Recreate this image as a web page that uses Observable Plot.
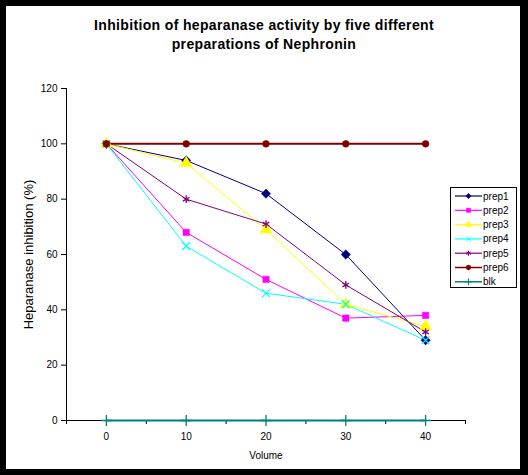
<!DOCTYPE html>
<html>
<head>
<meta charset="utf-8">
<script src="https://cdn.jsdelivr.net/npm/d3@7"></script>
<script src="https://cdn.jsdelivr.net/npm/@observablehq/plot@0.6"></script>
<style>
  html, body { margin: 0; padding: 0; background: #fff; }
  #page { position: relative; width: 528px; height: 475px; overflow: hidden; font-family: "Liberation Sans", Arial, sans-serif; }
  #frame { position: absolute; left: 0; top: 0; width: 528px; height: 475px; box-sizing: border-box;
           border-style: solid; border-color: #000; border-width: 6px 8px 6px 6px; pointer-events: none; z-index: 5; }
  #title { position: absolute; left: 0; top: 16px; width: 528px; text-align: center; font-weight: bold;
           font-size: 14px; letter-spacing: 0.35px; line-height: 19px; color: #000; }
  #chart { position: absolute; left: 0; top: 60px; }
  #legend { position: absolute; left: 450px; top: 187px; z-index: 3; }
</style>
</head>
<body>
<div id="page">
  <div id="title">Inhibition of heparanase activity by five different<br>preparations of Nephronin</div>
  <div id="chart"></div>
  <div id="legend"></div>
  <div id="frame"></div>
</div>
<script>
// ---- data ----
const volumes = [0, 10, 20, 30, 40];
const prep1 = [100, 94, 82, 60, 29];
const prep2 = [100, 68, 51, 37, 38];
const prep3 = [100, 93, 69, 42, 34];
const prep4 = [100, 63, 46, 42, 29];
const prep5 = [100, 80, 71, 49, 32];
const prep6 = [100, 100, 100, 100, 100];
const blk = [0, 0, 0, 0, 0];
const seriesNames = ["prep1", "prep2", "prep3", "prep4", "prep5", "prep6", "blk"];
const seriesValues = [prep1, prep2, prep3, prep4, prep5, prep6, blk];
const seriesColors = ["#000080", "#FF00FF", "#FFFF00", "#00FFFF", "#800080", "#800000", "#008080"];
const seriesSymbols = ["diamond2", "square", "triangle", "times", "asterisk", "circle", "plus"];
const seriesFilled = [true, true, true, false, false, true, false];
const yTicks = [0, 20, 40, 60, 80, 100, 120];
const xTickBoundaries = [-5, 5, 15, 25, 35, 45];

const lineWidths = [1, 1, 1, 1, 1, 2, 2];
const dotR = [4.2, 3.6, 4.4, 3.6, 3.6, 3.4, 3.6];

const marks = [];
marks.push(Plot.ruleY([0], {stroke: "#000", strokeWidth: 1}));
marks.push(Plot.ruleX([-5], {stroke: "#000", strokeWidth: 1}));
marks.push(Plot.axisY({ticks: yTicks, tickSize: 5, tickPadding: 4, fontSize: 10, label: null}));
marks.push(Plot.axisY({ticks: [], tickSize: 0, fontSize: 13,
  label: "Heparanase inhibition (%)", labelAnchor: "center", labelOffset: 43, labelArrow: "none"}));
marks.push(Plot.axisX({ticks: xTickBoundaries, tickSize: 4, tickFormat: () => "", label: null}));
marks.push(Plot.axisX({ticks: volumes, tickSize: 0, tickPadding: 12, fontSize: 10,
  label: "Volume", labelAnchor: "center", labelOffset: 38, labelArrow: "none"}));

seriesNames.forEach((name, i) => {
  const rows = volumes.map((v, j) => ({volume: v, value: seriesValues[i][j]}));
  marks.push(Plot.line(rows, {x: "volume", y: "value", stroke: seriesColors[i], strokeWidth: lineWidths[i]}));
});
seriesNames.forEach((name, i) => {
  const rows = volumes.map((v, j) => ({volume: v, value: seriesValues[i][j]}));
  marks.push(Plot.dot(rows, {x: "volume", y: "value", symbol: () => seriesSymbols[i], r: dotR[i],
    fill: seriesFilled[i] ? seriesColors[i] : "none",
    stroke: seriesColors[i], strokeWidth: seriesFilled[i] ? 0.5 : 1.3}));
});

const chart = Plot.plot({
  width: 528, height: 415,
  marginTop: 28, marginBottom: 55, marginLeft: 66, marginRight: 63,
  x: {domain: [-5, 45]},
  y: {domain: [0, 120]},
  symbol: {type: "identity"},
  style: {fontFamily: "'Liberation Sans', Arial, sans-serif", fontSize: "10px", color: "#000", background: "transparent", overflow: "visible"},
  marks
});
document.getElementById("chart").appendChild(chart);

// ---- legend ----
const lw = 67, lh = 101;
const lsvg = d3.select("#legend").append("svg").attr("width", lw).attr("height", lh)
  .style("font-family", "'Liberation Sans', Arial, sans-serif").style("font-size", "10px");
lsvg.append("rect").attr("x", 0.5).attr("y", 0.5).attr("width", lw - 1).attr("height", lh - 1)
  .attr("fill", "#fff").attr("stroke", "#000").attr("stroke-width", 1);
const symMap = {diamond2: d3.symbolDiamond2, square: d3.symbolSquare, triangle: d3.symbolTriangle,
  times: d3.symbolTimes, asterisk: d3.symbolAsterisk, circle: d3.symbolCircle, plus: d3.symbolPlus};
seriesNames.forEach((name, i) => {
  const cy = 9 + i * 14.3;
  lsvg.append("line").attr("x1", 5).attr("x2", 32).attr("y1", cy).attr("y2", cy)
    .attr("stroke", seriesColors[i]).attr("stroke-width", lineWidths[i] === 2 ? 1.5 : 1.2);
  lsvg.append("path").attr("transform", `translate(18.5,${cy})`)
    .attr("d", d3.symbol(symMap[seriesSymbols[i]], 18)())
    .attr("fill", seriesFilled[i] ? seriesColors[i] : "none")
    .attr("stroke", seriesColors[i]).attr("stroke-width", seriesFilled[i] ? 0.5 : 1);
  lsvg.append("text").attr("x", 33).attr("y", cy).attr("dy", "0.35em").attr("fill", "#000").text(name);
});
</script>
</body>
</html>
